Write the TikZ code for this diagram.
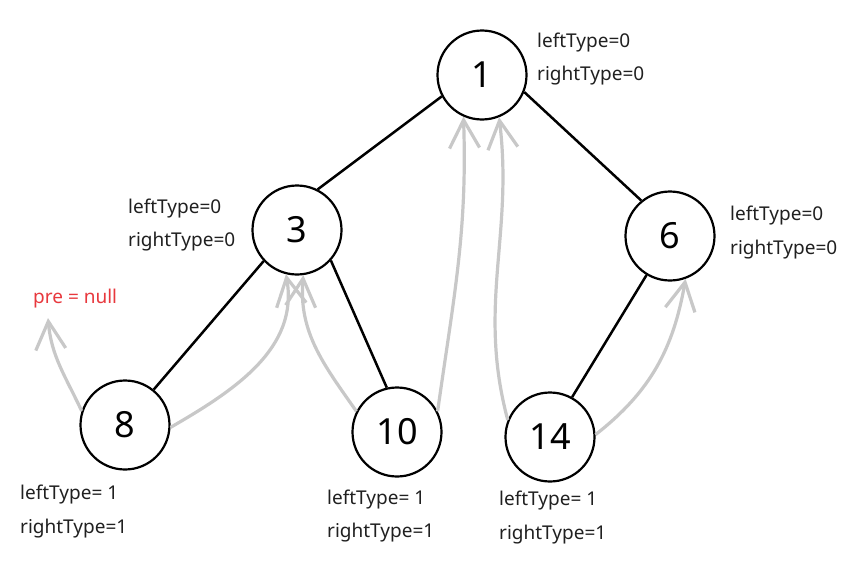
\documentclass[tikz,border=0pt]{standalone}
\usepackage{fontspec}
\setmainfont{Noto Sans}
\usetikzlibrary{arrows.meta}
\definecolor{threadgray}{HTML}{C8C8C8}
\definecolor{nullred}{HTML}{E8383D}
\definecolor{inktext}{HTML}{202020}
\begin{document}
\begin{tikzpicture}[x=1pt,y=1pt,
  treenode/.style={circle,draw=black,line width=2.2pt,minimum size=89pt,inner sep=0pt,
    font=\fontsize{36}{40}\selectfont},
  treeedge/.style={draw=black,line width=2.5pt},
  thread/.style={draw=threadgray,line width=3.2pt,
    -{Straight Barb[length=28pt,width=30pt,line width=3.2pt]}},
  flag/.style={anchor=base west,inner sep=0pt,text=inktext,font=\fontsize{19}{21}\selectfont}]
\useasboundingbox (0,0) rectangle (861,-562);
\fill[white] (0,0) rectangle (861,-562);

% tree nodes
\node[treenode] (n1)  at (482,-75)  {1};
\node[treenode] (n3)  at (297,-230) {3};
\node[treenode] (n6)  at (670,-236) {6};
\node[treenode] (n8)  at (125,-425) {8};
\node[treenode] (n10) at (397,-432) {10};
\node[treenode] (n14) at (550,-437) {14};

% tree edges
\draw[treeedge] (n1.-152) -- (n3.63);
\draw[treeedge] (n1.-22) -- (n6.129);
\draw[treeedge] (n3.-137) -- (n8.51);
\draw[treeedge] (n3.-42) -- (n10.103);
\draw[treeedge] (n6.-121) -- (n14.61);

% predecessor of the first node
\node[anchor=base west,inner sep=0pt,text=nullred,font=\fontsize{19}{21}\selectfont] (pre) at (33,-303) {pre = null};
\coordinate (pretip) at (48,-318);

% threads
\draw[thread] (n8.162) to[out=115,in=-85] (pretip);
\draw[thread] (n8.-3) to[out=30,in=-80] (n3.-104);
\draw[thread] (n10.153) to[out=125,in=-95] (n3.-82);
\draw[thread] (n10.27) to[out=82,in=-88] (n1.-114);
\draw[thread] (n14.158) to[out=105,in=-83] (n1.-68);
\draw[thread] (n14.3) to[out=38,in=-100] (n6.-70);

% tag labels
\node[flag] (l1a) at (537,-47) {leftType=0};
\node[flag] (l1b) at (537,-80) {rightType=0};
\node[flag] (l3a) at (128,-213) {leftType=0};
\node[flag] (l3b) at (128,-246) {rightType=0};
\node[flag] (l6a) at (730,-220) {leftType=0};
\node[flag] (l6b) at (730,-254) {rightType=0};
\node[flag] (l8a) at (20,-499) {leftType= 1};
\node[flag] (l8b) at (20,-533) {rightType=1};
\node[flag] (l10a) at (327,-504) {leftType= 1};
\node[flag] (l10b) at (327,-537) {rightType=1};
\node[flag] (l14a) at (499,-505) {leftType= 1};
\node[flag] (l14b) at (499,-539) {rightType=1};
\end{tikzpicture}
\end{document}
